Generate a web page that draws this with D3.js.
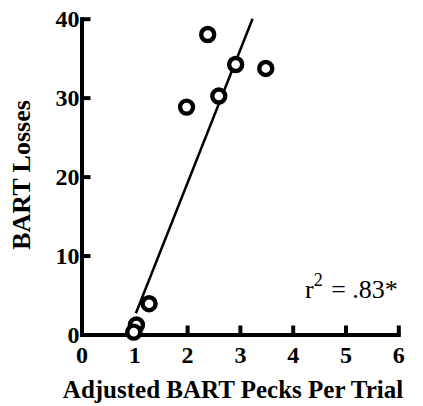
<!DOCTYPE html>
<html>
<head>
<meta charset="utf-8">
<script src="https://cdn.jsdelivr.net/npm/d3@7"></script>
<style>
  html, body { margin: 0; padding: 0; background: #fff; }
  svg { display: block; font-family: "Liberation Serif", "Times New Roman", serif; }
</style>
</head>
<body>
<svg id="chart" width="423" height="406"></svg>
<script>
// data
const pecks = [1.99, 2.39, 2.60, 2.92, 3.49, 1.28, 1.04, 0.99];
const losses = [28.8, 38.0, 30.2, 34.2, 33.7, 3.9, 1.2, 0.3];
const fitX = [1.03, 3.24];
const fitY = [2.7, 40];
const xTicks = [0, 1, 2, 3, 4, 5, 6];
const yTicks = [0, 10, 20, 30, 40];
const statLabel = '= .83*';

const svg = d3.select('#chart');

const x = d3.scaleLinear().domain([0, 6]).range([81.5, 398.3]);
const y = d3.scaleLinear().domain([0, 40]).range([334.5, 18.7]);

// axes
const xAxis = g => g
  .attr('transform', `translate(0,${y(0)})`)
  .call(d3.axisBottom(x).tickValues(xTicks).tickFormat(d3.format('d'))
    .tickSizeInner(-9).tickSizeOuter(0).tickPadding(11));

const yAxis = g => g
  .attr('transform', `translate(${x(0)},0)`)
  .call(d3.axisLeft(y).tickValues(yTicks).tickFormat(d3.format('d'))
    .tickSizeInner(-9).tickSizeOuter(0).tickPadding(2));

const gx = svg.append('g').call(xAxis);
const gy = svg.append('g').call(yAxis);

[gx, gy].forEach(g => {
  g.select('.domain').attr('stroke', '#000').attr('stroke-width', 4).attr('stroke-linecap', 'square');
  g.selectAll('.tick line').attr('stroke', '#000').attr('stroke-width', 4);
  g.selectAll('.tick text')
    .attr('fill', '#000')
    .attr('font-family', '"Liberation Serif", serif')
    .attr('font-weight', 'bold')
    .attr('font-size', 24);
});
gy.selectAll('.tick text').attr('dy', '0.34em');
gx.selectAll('.tick text').attr('dy', '0.71em');

// regression line
svg.append('path')
  .datum(fitX.map((d, i) => [d, fitY[i]]))
  .attr('fill', 'none')
  .attr('stroke', '#000')
  .attr('stroke-width', 2.5)
  .attr('d', d3.line().x(d => x(d[0])).y(d => y(d[1])));

// points
svg.append('g')
  .selectAll('circle')
  .data(pecks.map((d, i) => ({ px: d, loss: losses[i] })))
  .enter()
  .append('circle')
  .attr('cx', d => x(d.px))
  .attr('cy', d => y(d.loss))
  .attr('r', 6.5)
  .attr('fill', '#fff')
  .attr('stroke', '#000')
  .attr('stroke-width', 4.4);

// titles
svg.append('text')
  .attr('x', 233)
  .attr('y', 398)
  .attr('text-anchor', 'middle')
  .attr('font-weight', 'bold')
  .attr('font-size', 25)
  .text('Adjusted BART Pecks Per Trial');

svg.append('text')
  .attr('transform', 'translate(30,175) rotate(-90)')
  .attr('text-anchor', 'middle')
  .attr('font-weight', 'bold')
  .attr('font-size', 26)
  .text('BART Losses');

// r squared note
const note = svg.append('text')
  .attr('x', 305)
  .attr('y', 298)
  .attr('font-size', 26);
note.append('tspan').text('r');
note.append('tspan').attr('dy', -12).attr('font-size', 18).text('2');
note.append('tspan').attr('dy', 12).attr('dx', 2).text('\u00a0' + statLabel);
</script>
</body>
</html>
